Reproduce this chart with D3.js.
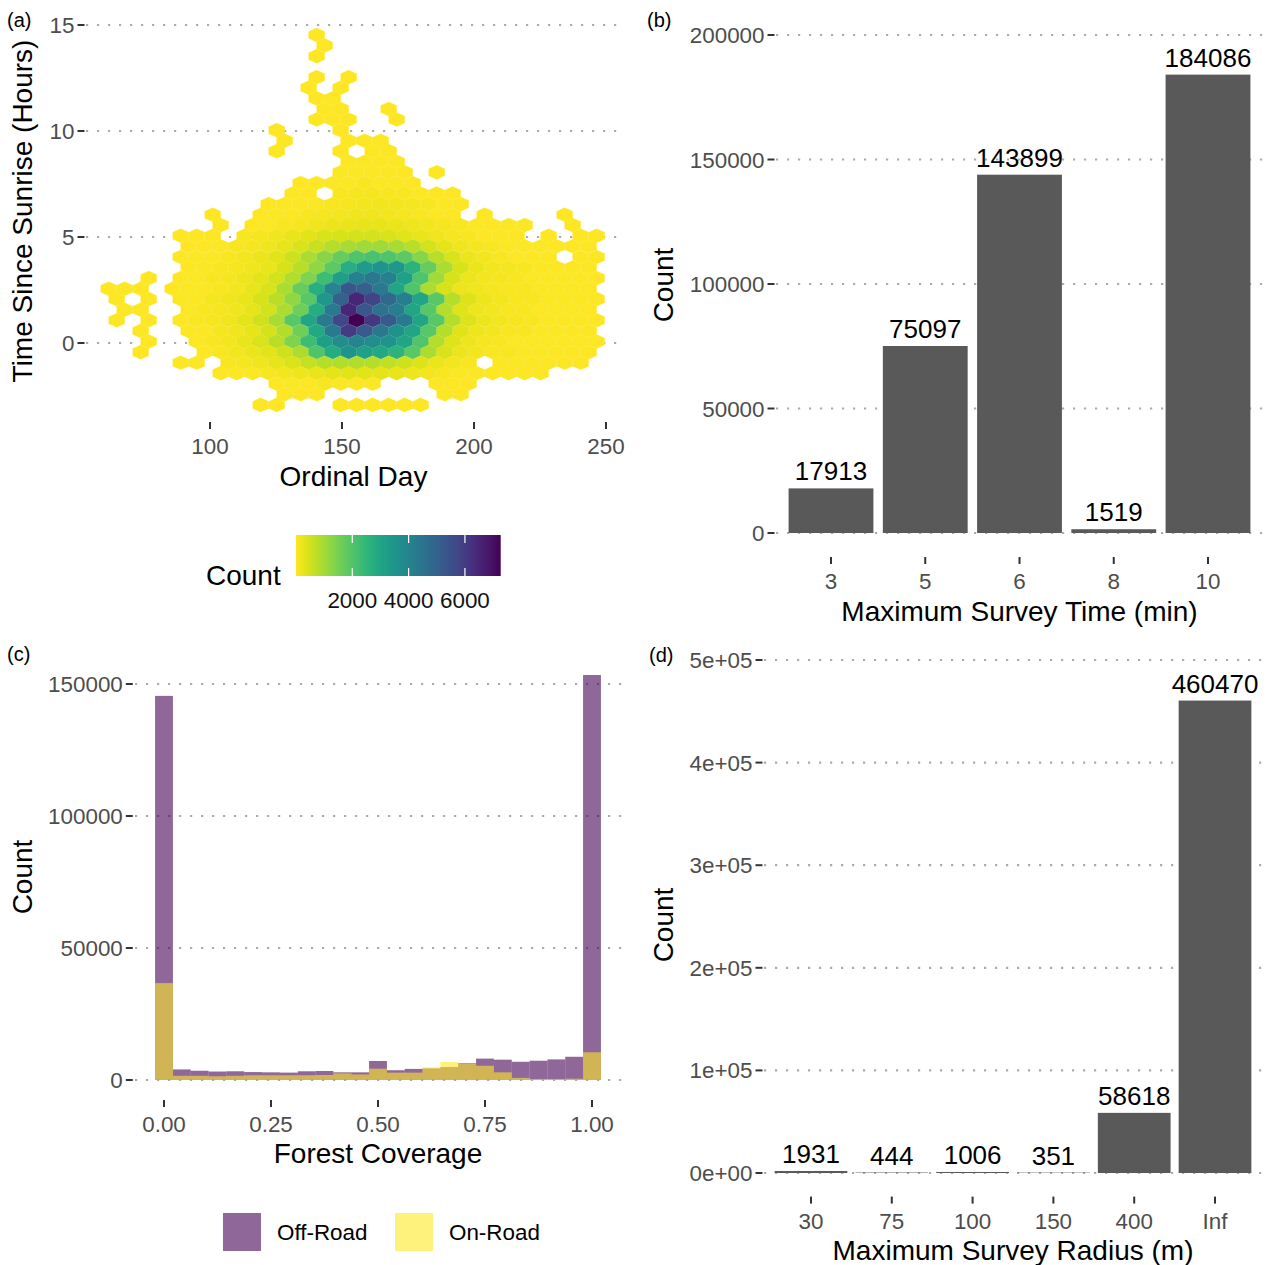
<!DOCTYPE html>
<html><head><meta charset="utf-8">
<script src="https://cdn.jsdelivr.net/npm/d3@7"></script>
<style>
body{margin:0;background:#fff}
text{font-family:"Liberation Sans", Arial, Helvetica, sans-serif}
</style>
</head><body>
<svg id="chart" width="1269" height="1265" xmlns="http://www.w3.org/2000/svg"></svg>
<script>
// ---------------- DATA ----------------
// (a) hexbin: each row has a centre (hours), the ordinal day of its first cell, and cell counts (0 = empty cell)
const hexBinDays = 6.06;
const hexRowStep = 0.4986;
const hexRowHours = [14.53,14.03,13.53,12.54,12.04,11.54,11.04,10.54,10.04,9.54,9.05,8.55,8.05,7.55,7.05,6.55,6.05,5.56,5.06,4.56,4.06,3.56,3.06,2.56,2.07,1.57,1.07,0.57,0.07,-0.43,-0.93,-1.42,-1.92,-2.42,-2.92];
const hexRowFirstDay = [140.41,143.44,140.41,140.41,137.38,140.41,143.44,140.41,125.26,128.29,125.26,152.53,149.50,134.35,131.32,122.23,101.02,104.05,88.90,91.93,88.90,91.93,76.78,61.63,64.66,67.69,64.66,73.75,76.78,73.75,88.90,104.05,125.26,128.29,119.20];
const hexRowCounts = [
  [3],
  [2],
  [4],
  [5,0,3],
  [4,0,6],
  [8,10],
  [9,7,0,0,3],
  [12,15,9,0,0,4],
  [3,0,0,0,14],
  [4,0,0,0,20,12,6],
  [2,0,0,0,25,0,14,8],
  [30,35,22,10],
  [40,45,38,20,8,0,3],
  [6,10,30,50,60,55,35,12],
  [15,25,0,70,90,95,80,60,40,25,10],
  [8,20,30,50,80,110,140,150,130,100,70,40,15],
  [5,0,0,15,30,50,80,110,140,160,160,140,110,75,45,25,0,10,0,0,0,0,4],
  [6,0,20,40,70,110,160,210,250,270,270,240,190,140,95,60,40,25,12,8,0,0,5],
  [10,18,25,0,70,110,170,250,330,400,450,480,470,420,340,250,160,100,65,45,30,20,0,10,0,8,5],
  [15,25,40,60,100,160,260,420,620,820,960,1050,1050,950,760,500,300,170,105,70,50,40,30,25,20,12],
  [20,30,50,80,130,200,320,550,900,1300,1700,2000,2100,2000,1800,1300,750,400,200,120,80,55,40,30,0,20,12],
  [25,40,60,100,160,250,450,750,1200,1800,2700,3300,3500,3400,2600,1700,900,450,220,130,90,60,45,35,25,15],
  [3,0,30,45,70,110,180,300,500,850,1400,2300,3200,4100,4400,4100,3100,2000,1000,450,220,130,90,65,50,40,30,25,15],
  [4,6,3,0,10,35,55,85,140,230,420,900,1700,2700,4000,5300,5100,4300,3000,2000,900,450,220,150,110,80,60,50,40,30,20],
  [5,0,4,0,35,55,90,150,250,450,750,1200,1900,3400,5000,6500,5800,4800,4200,3000,1900,800,380,190,120,85,65,50,40,30,18],
  [6,8,0,0,40,60,100,170,280,500,900,1600,2800,4300,6500,5300,4500,4200,3000,1900,800,350,190,120,85,65,50,40,30,20],
  [4,0,5,0,40,60,100,170,300,520,950,1900,3000,4300,5700,7270,6100,5200,4300,3000,1900,800,380,200,125,90,70,55,40,30,18],
  [5,0,0,35,55,90,160,270,480,850,1600,2900,4300,6000,5200,4400,3600,3000,1900,800,350,180,115,80,60,45,35,25,15],
  [4,0,0,50,80,140,240,420,750,1400,2300,3200,3700,4000,3700,3500,3000,2000,800,350,180,110,75,55,45,35,28,20,12],
  [3,0,0,0,45,70,120,200,330,550,900,2000,2800,3500,3100,2900,2600,1900,900,400,200,120,80,60,45,35,28,20,12],
  [8,12,0,60,100,160,260,420,650,800,850,850,800,700,550,380,220,120,70,0,40,30,25,20,15,10],
  [20,35,55,85,130,190,250,300,320,320,290,240,180,120,80,50,35,25,18,12,8],
  [20,35,50,60,55,45,30,0,0,0,12,10,6],
  [8,12,9,0,0,0,0,0,0,0,5,4],
  [3,4,0,0,0,3,5,6,5,4,2]
];
const hexCountMin = 1;
const hexCountMax = 7270;
const countLegendTicks = [2000, 4000, 6000];
const ordinalDayTicks = [100, 150, 200, 250];
const sunriseTicks = [0, 5, 10, 15];

// (b) maximum survey time
const surveyTimeCats = ["3", "5", "6", "8", "10"];
const surveyTimeCounts = [17913, 75097, 143899, 1519, 184086];
const surveyTimeTicks = [0, 50000, 100000, 150000, 200000];

// (c) forest coverage histogram (25 bins, width 1/24, centred on 0 ... 1)
const forestBinWidth = 1 / 24;
const offRoadCounts = [145500,4000,3500,3200,3300,3000,2900,2800,3300,3400,2900,2900,7200,3700,4200,4400,4900,6400,8100,7700,6900,7300,7800,8800,153400];
const onRoadCounts  = [36700,1600,1600,1400,1600,1800,1800,1800,1800,1900,2500,2100,4300,2800,2800,4800,6800,6300,5400,2900,800,400,400,500,10500];
const forestTicks = [0, 0.25, 0.5, 0.75, 1];
const forestCountTicks = [0, 50000, 100000, 150000];
const roadGroups = ["Off-Road", "On-Road"];

// (d) maximum survey radius
const radiusCats = ["30", "75", "100", "150", "400", "Inf"];
const radiusCounts = [1931, 444, 1006, 351, 58618, 460470];
const radiusTicks = [0, 100000, 200000, 300000, 400000, 500000];

// ---------------- STYLE ----------------
const tickTextCol = "#4d4d4d", gridCol = "#ababab", tickCol = "#333333";
const barCol = "#595959";
const offCol = "#440154", onCol = "#FDE725";
const fsTick = 22.4, fsTitle = 28, fsVal = 26, fsTag = 20;

const svg = d3.select("#chart");

function gridY(g, scale, ticks, x0, x1) {
  g.selectAll(null).data(ticks).enter().append("line")
    .attr("x1", x0).attr("x2", x1)
    .attr("y1", d => scale(d)).attr("y2", d => scale(d))
    .attr("stroke", gridCol).attr("stroke-width", 2.2)
    .attr("stroke-dasharray", "2.2 8.8");
}
function axisY(g, scale, ticks, fmt, xPanel) {
  g.selectAll(null).data(ticks).enter().append("line")
    .attr("x1", xPanel - 7).attr("x2", xPanel)
    .attr("y1", d => scale(d)).attr("y2", d => scale(d))
    .attr("stroke", tickCol).attr("stroke-width", 2);
  g.selectAll(null).data(ticks).enter().append("text")
    .attr("x", xPanel - 10).attr("y", d => scale(d) + 8)
    .attr("text-anchor", "end").attr("font-size", fsTick).attr("fill", tickTextCol)
    .text(fmt);
}
function axisX(g, positions, labels, yPanel) {
  g.selectAll(null).data(positions).enter().append("line")
    .attr("x1", d => d).attr("x2", d => d)
    .attr("y1", yPanel).attr("y2", yPanel + 7)
    .attr("stroke", tickCol).attr("stroke-width", 2);
  g.selectAll(null).data(positions).enter().append("text")
    .attr("x", d => d).attr("y", yPanel + 32)
    .attr("text-anchor", "middle").attr("font-size", fsTick).attr("fill", tickTextCol)
    .text((d, i) => labels[i]);
}
function titleX(g, txt, cx, baseline) {
  g.append("text").attr("x", cx).attr("y", baseline).attr("text-anchor", "middle")
    .attr("font-size", fsTitle).attr("fill", "#000").text(txt);
}
function titleY(g, txt, cx, cy) {
  g.append("text").attr("transform", `translate(${cx + 10},${cy}) rotate(-90)`)
    .attr("text-anchor", "middle").attr("font-size", fsTitle).attr("fill", "#000").text(txt);
}
function tag(g, txt, x, y) {
  g.append("text").attr("x", x).attr("y", y).attr("font-size", fsTag).attr("fill", "#000").text(txt);
}

// ---------------- PANEL A ----------------
const gA = svg.append("g");
const xA = d3.scaleLinear().domain([100, 250]).range([210, 606]);
const yA = d3.scaleLinear().domain([0, 15]).range([343, 25]);
const colA = d3.scaleSequential(d3.interpolateViridis).domain([hexCountMax, hexCountMin]);
gridY(gA, yA, sunriseTicks, 86, 621);

const cells = [];
hexRowCounts.forEach((row, i) => {
  row.forEach((c, k) => {
    if (c > 0) cells.push({ day: hexRowFirstDay[i] + k * hexBinDays, hr: hexRowHours[i], c });
  });
});
const hw = hexBinDays / 2, h2 = hexRowStep * 2 / 3, h4 = hexRowStep / 3;
gA.append("g").selectAll("polygon").data(cells).enter().append("polygon")
  .attr("points", d => [
      [d.day, d.hr + h2], [d.day + hw, d.hr + h4], [d.day + hw, d.hr - h4],
      [d.day, d.hr - h2], [d.day - hw, d.hr - h4], [d.day - hw, d.hr + h4]
    ].map(p => `${xA(p[0]).toFixed(2)},${yA(p[1]).toFixed(2)}`).join(" "))
  .attr("fill", d => colA(d.c))
  .attr("stroke", d => colA(d.c)).attr("stroke-width", 0.25);

axisY(gA, yA, sunriseTicks, d => d, 84.5);
axisX(gA, ordinalDayTicks.map(xA), ordinalDayTicks, 422);
titleX(gA, "Ordinal Day", 353.5, 486);
titleY(gA, "Time Since Sunrise (Hours)", 22, 211);
tag(gA, "(a)", 7, 27);

// colour bar legend
const defs = svg.append("defs");
const grad = defs.append("linearGradient").attr("id", "cbar").attr("x1", "0%").attr("x2", "100%");
d3.range(0, 1.0001, 0.05).forEach(t => {
  grad.append("stop").attr("offset", `${t * 100}%`).attr("stop-color", colA(hexCountMin + t * (hexCountMax - hexCountMin)));
});
const cbX = d3.scaleLinear().domain([hexCountMin, hexCountMax]).range([296, 500.7]);
gA.append("rect").attr("x", cbX(hexCountMin)).attr("y", 535)
  .attr("width", cbX(hexCountMax) - cbX(hexCountMin)).attr("height", 41).attr("fill", "url(#cbar)");
countLegendTicks.forEach(v => {
  gA.append("line").attr("x1", cbX(v)).attr("x2", cbX(v)).attr("y1", 535).attr("y2", 543)
    .attr("stroke", "#fff").attr("stroke-width", 1.2);
  gA.append("line").attr("x1", cbX(v)).attr("x2", cbX(v)).attr("y1", 568).attr("y2", 576)
    .attr("stroke", "#fff").attr("stroke-width", 1.2);
  gA.append("text").attr("x", cbX(v)).attr("y", 608).attr("text-anchor", "middle")
    .attr("font-size", fsTick).attr("fill", "#111").text(v);
});
gA.append("text").attr("x", 206).attr("y", 585).attr("font-size", fsTitle).attr("fill", "#000").text("Count");

// ---------------- PANEL B ----------------
const gB = svg.append("g");
const xB = d3.scaleBand().domain(surveyTimeCats).range([774.45, 1264.55]).paddingInner(0.1).paddingOuter(0.15);
const yB = d3.scaleLinear().domain([0, 200000]).range([533, 35]);
gridY(gB, yB, surveyTimeTicks, 776, 1264);
gB.selectAll(null).data(surveyTimeCats).enter().append("rect")
  .attr("x", d => xB(d)).attr("width", xB.bandwidth())
  .attr("y", (d, i) => yB(surveyTimeCounts[i]))
  .attr("height", (d, i) => yB(0) - yB(surveyTimeCounts[i]))
  .attr("fill", barCol);
gB.selectAll(null).data(surveyTimeCats).enter().append("text")
  .attr("x", d => xB(d) + xB.bandwidth() / 2)
  .attr("y", (d, i) => yB(surveyTimeCounts[i]) - 8)
  .attr("text-anchor", "middle").attr("font-size", fsVal).attr("fill", "#000")
  .text((d, i) => surveyTimeCounts[i]);
axisY(gB, yB, surveyTimeTicks, d => d, 774.5);
axisX(gB, surveyTimeCats.map(d => xB(d) + xB.bandwidth() / 2), surveyTimeCats, 557);
titleX(gB, "Maximum Survey Time (min)", 1019.5, 621);
titleY(gB, "Count", 663, 285);
tag(gB, "(b)", 647, 27);

// ---------------- PANEL C ----------------
const gC = svg.append("g");
const xC = d3.scaleLinear().domain([0, 1]).range([164, 592]);
const yC = d3.scaleLinear().domain([0, 150000]).range([1080, 684]);
gridY(gC, yC, forestCountTicks, 135, 623);
const drawHist = (vals, col) => {
  gC.append("g").selectAll("rect").data(vals).enter().append("rect")
    .attr("x", (d, i) => xC(i * forestBinWidth - forestBinWidth / 2))
    .attr("width", (d, i) => xC(i * forestBinWidth + forestBinWidth / 2) - xC(i * forestBinWidth - forestBinWidth / 2))
    .attr("y", d => yC(d)).attr("height", d => yC(0) - yC(d))
    .attr("fill", col).attr("fill-opacity", 0.6);
};
drawHist(offRoadCounts, offCol);
drawHist(onRoadCounts, onCol);
axisY(gC, yC, forestCountTicks, d => d, 132.8);
axisX(gC, forestTicks.map(xC), forestTicks.map(d3.format(".2f")), 1100);
titleX(gC, "Forest Coverage", 378, 1163);
titleY(gC, "Count", 22, 877);
tag(gC, "(c)", 7, 661);

// legend (c)
const legX = [223, 395];
roadGroups.forEach((nm, i) => {
  gC.append("rect").attr("x", legX[i]).attr("y", 1213).attr("width", 38).attr("height", 38)
    .attr("fill", i === 0 ? offCol : onCol).attr("fill-opacity", 0.6);
  gC.append("text").attr("x", legX[i] + 54).attr("y", 1240).attr("font-size", fsTick)
    .attr("fill", "#000").text(nm);
});

// ---------------- PANEL D ----------------
const gD = svg.append("g");
const xD = d3.scaleBand().domain(radiusCats).range([762.5, 1263.5]).paddingInner(0.1).paddingOuter(0.15);
const yD = d3.scaleLinear().domain([0, 500000]).range([1173, 660]);
const sci = v => {
  if (v === 0) return "0e+00";
  const e = Math.floor(Math.log10(v));
  return `${Math.round(v / Math.pow(10, e))}e+${String(e).padStart(2, "0")}`;
};
gridY(gD, yD, radiusTicks, 764, 1263);
gD.selectAll(null).data(radiusCats).enter().append("rect")
  .attr("x", d => xD(d)).attr("width", xD.bandwidth())
  .attr("y", (d, i) => yD(radiusCounts[i]))
  .attr("height", (d, i) => yD(0) - yD(radiusCounts[i]))
  .attr("fill", barCol);
gD.selectAll(null).data(radiusCats).enter().append("text")
  .attr("x", d => xD(d) + xD.bandwidth() / 2)
  .attr("y", (d, i) => yD(radiusCounts[i]) - 8)
  .attr("text-anchor", "middle").attr("font-size", fsVal).attr("fill", "#000")
  .text((d, i) => radiusCounts[i]);
axisY(gD, yD, radiusTicks, sci, 762.5);
axisX(gD, radiusCats.map(d => xD(d) + xD.bandwidth() / 2), radiusCats, 1196.6);
titleX(gD, "Maximum Survey Radius (m)", 1013, 1260);
titleY(gD, "Count", 663, 925);
tag(gD, "(d)", 649, 662);
</script>
</body></html>
